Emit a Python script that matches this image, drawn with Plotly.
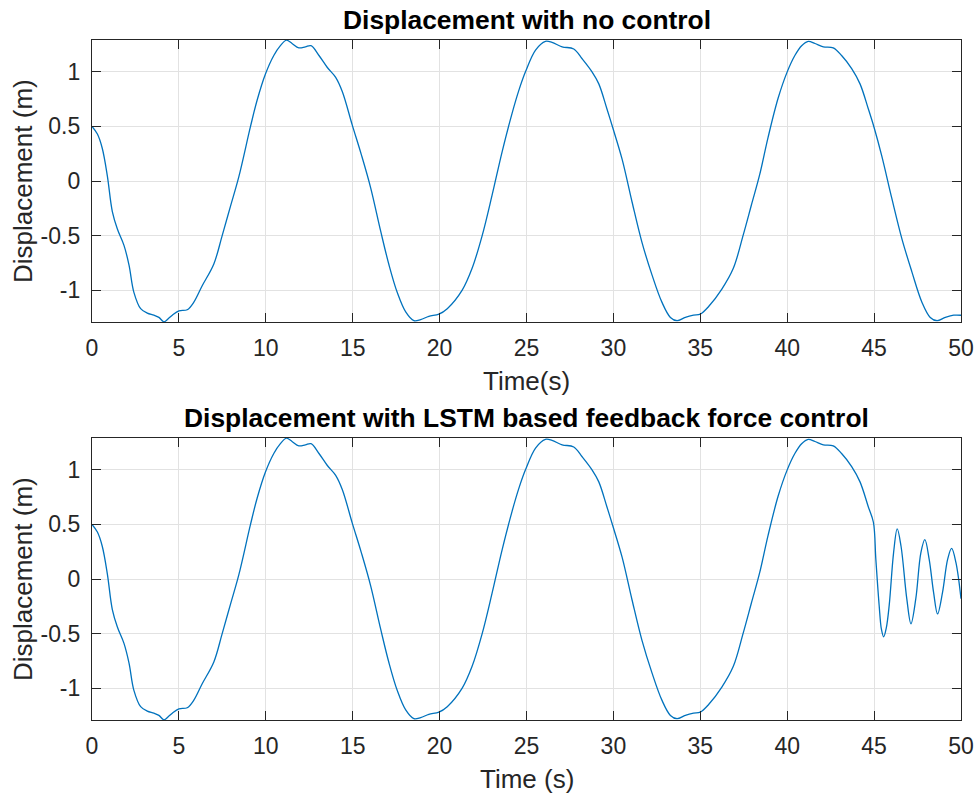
import plotly.graph_objects as go

# ---------------- data ----------------
time_s = [0, 0.31, 0.59, 0.88, 1.17, 1.46, 1.84, 2.13, 2.41, 2.80, 3.18, 3.56, 3.85, 4.14, 4.4,
          4.62, 5.0, 5.48, 5.86, 6.34, 7.01, 7.49, 7.97, 8.45, 9.12, 9.5, 9.98, 10.46, 10.84,
          11.19, 11.51, 11.9, 12.28, 12.6, 13.06, 13.54, 14.02, 14.4, 14.98, 15.5, 16.03,
          16.61, 17.09, 17.56, 18.05, 18.52, 18.91, 19.38, 19.96, 20.44, 21.3, 21.87, 22.45,
          23.02, 23.6, 24.17, 24.56, 24.94, 25.52, 26.09, 26.47, 27.05, 27.72, 28.2, 28.77,
          29.16, 29.63, 29.96, 30.5, 31.07, 31.64, 32.22, 32.79, 33.28, 33.66, 34.14, 34.61,
          35.0, 35.48, 36.24, 36.9, 37.46, 37.94, 38.42, 38.9, 39.48, 40.0, 40.44, 40.83,
          41.21, 41.6, 42.08, 42.65, 43.13, 43.71, 44.19, 44.67, 45.0, 45.44, 46.02, 46.6,
          47.17, 47.75, 48.23, 48.62, 49.1, 49.58, 50.0]
disp_no_control = [0.50, 0.43, 0.30, 0.05, -0.28, -0.44, -0.59, -0.77, -1.02, -1.17, -1.21, -1.23,
                   -1.25, -1.29, -1.26, -1.23, -1.19, -1.18, -1.11, -0.96, -0.76, -0.50, -0.23,
                   0.04, 0.50, 0.74, 0.98, 1.15, 1.24, 1.29, 1.26, 1.22, 1.23, 1.24, 1.15, 1.04,
                   0.95, 0.82, 0.51, 0.24, -0.06, -0.46, -0.77, -1.02, -1.20, -1.28, -1.27, -1.24,
                   -1.22, -1.17, -1.00, -0.80, -0.50, -0.13, 0.27, 0.62, 0.83, 1.00, 1.20, 1.28,
                   1.27, 1.23, 1.21, 1.12, 1.00, 0.89, 0.66, 0.49, 0.20, -0.19, -0.56, -0.86,
                   -1.11, -1.25, -1.28, -1.25, -1.23, -1.22, -1.15, -0.99, -0.80, -0.50, -0.22,
                   0.06, 0.40, 0.76, 1.00, 1.15, 1.24, 1.28, 1.26, 1.23, 1.22, 1.15, 1.03, 0.89,
                   0.66, 0.49, 0.23, -0.16, -0.53, -0.83, -1.11, -1.25, -1.28, -1.25, -1.23, -1.23]

# LSTM feedback control switches on near t = 45 s
control_start = 44.9
tail_time = [44.96, 45.1, 45.29, 45.42, 45.55, 45.7, 45.87, 46.12, 46.33, 46.55, 46.88, 47.12,
             47.4, 47.69, 47.92, 48.17, 48.42, 48.65, 48.94, 49.23, 49.46, 49.71, 50.0]
tail_disp = [0.52, 0.18, -0.24, -0.46, -0.53, -0.45, -0.24, 0.24, 0.46, 0.30, -0.18, -0.41,
             -0.18, 0.24, 0.36, 0.18, -0.12, -0.32, -0.12, 0.18, 0.28, 0.15, -0.18]

x_ticks = [0, 5, 10, 15, 20, 25, 30, 35, 40, 45, 50]
y_ticks = [-1, -0.5, 0, 0.5, 1]
y_tick_text = ["-1", "-0.5", "0", "0.5", "1"]

titles = ["Displacement with no control", "Displacement with LSTM based feedback force control"]
x_labels = ["Time(s)", "Time (s)"]
y_label = "Displacement (m)"

# controlled series built from the shared part plus the tail
time_ctrl = [t for t in time_s if t < control_start] + tail_time
disp_ctrl = [d for t, d in zip(time_s, disp_no_control) if t < control_start] + tail_disp

# ---------------- figure ----------------
W, H = 976, 796
FONT = "Liberation Sans, Arial, Helvetica, sans-serif"
DARK = "#262626"
LINE = "#0072BD"

fig = go.Figure()
fig.add_trace(go.Scatter(x=time_s, y=disp_no_control, mode="lines",
                         line=dict(color=LINE, width=1.3, shape="spline", smoothing=1.0),
                         xaxis="x", yaxis="y", showlegend=False))
fig.add_trace(go.Scatter(x=time_ctrl, y=disp_ctrl, mode="lines",
                         line=dict(color=LINE, width=1.3, shape="spline", smoothing=1.0),
                         xaxis="x2", yaxis="y2", showlegend=False))

x_dom = [92 / W, 961 / W]
top_dom = [1 - 322 / H, 1 - 40 / H]
bot_dom = [1 - 720 / H, 1 - 438 / H]

common = dict(ticks="inside", ticklen=9, tickwidth=1.2, tickcolor=DARK,
              showline=True, linecolor=DARK, linewidth=1.3, mirror="ticks",
              showgrid=True, gridcolor="#e2e2e2", gridwidth=1, zeroline=False,
              automargin=False,
              tickfont=dict(family=FONT, size=23, color=DARK))

xa = dict(common, domain=x_dom, range=[0, 50], tickvals=x_ticks,
          ticktext=[str(v) for v in x_ticks], ticklabelstandoff=5)
ya = dict(common, range=[-1.292, 1.292], tickvals=y_ticks, ticktext=y_tick_text,
          ticklabelstandoff=6)

fig.update_layout(
    width=W, height=H, autosize=False,
    margin=dict(l=0, r=0, t=0, b=0, pad=0),
    paper_bgcolor="white", plot_bgcolor="white",
    xaxis=dict(xa, anchor="y"),
    yaxis=dict(ya, domain=top_dom, anchor="x"),
    xaxis2=dict(xa, anchor="y2"),
    yaxis2=dict(ya, domain=bot_dom, anchor="x2"),
)

cx = (92 + 961) / 2 / W
ann = []
for ttl, xl, yc, ty, xly in zip(titles, x_labels, [181, 579], [20, 418], [381, 779]):
    ann.append(dict(text="<b>" + ttl + "</b>", x=cx, y=1 - ty / H, xref="paper", yref="paper",
                    xanchor="center", yanchor="middle", showarrow=False,
                    font=dict(family=FONT, size=26.4, color="black")))
    ann.append(dict(text=xl, x=cx, y=1 - xly / H, xref="paper", yref="paper",
                    xanchor="center", yanchor="middle", showarrow=False,
                    font=dict(family=FONT, size=26, color=DARK)))
    ann.append(dict(text=y_label, x=23 / W, y=1 - yc / H, xref="paper", yref="paper",
                    xanchor="center", yanchor="middle", showarrow=False, textangle=-90,
                    font=dict(family=FONT, size=26, color=DARK)))
fig.update_layout(annotations=ann)

fig.write_html("out.html")
